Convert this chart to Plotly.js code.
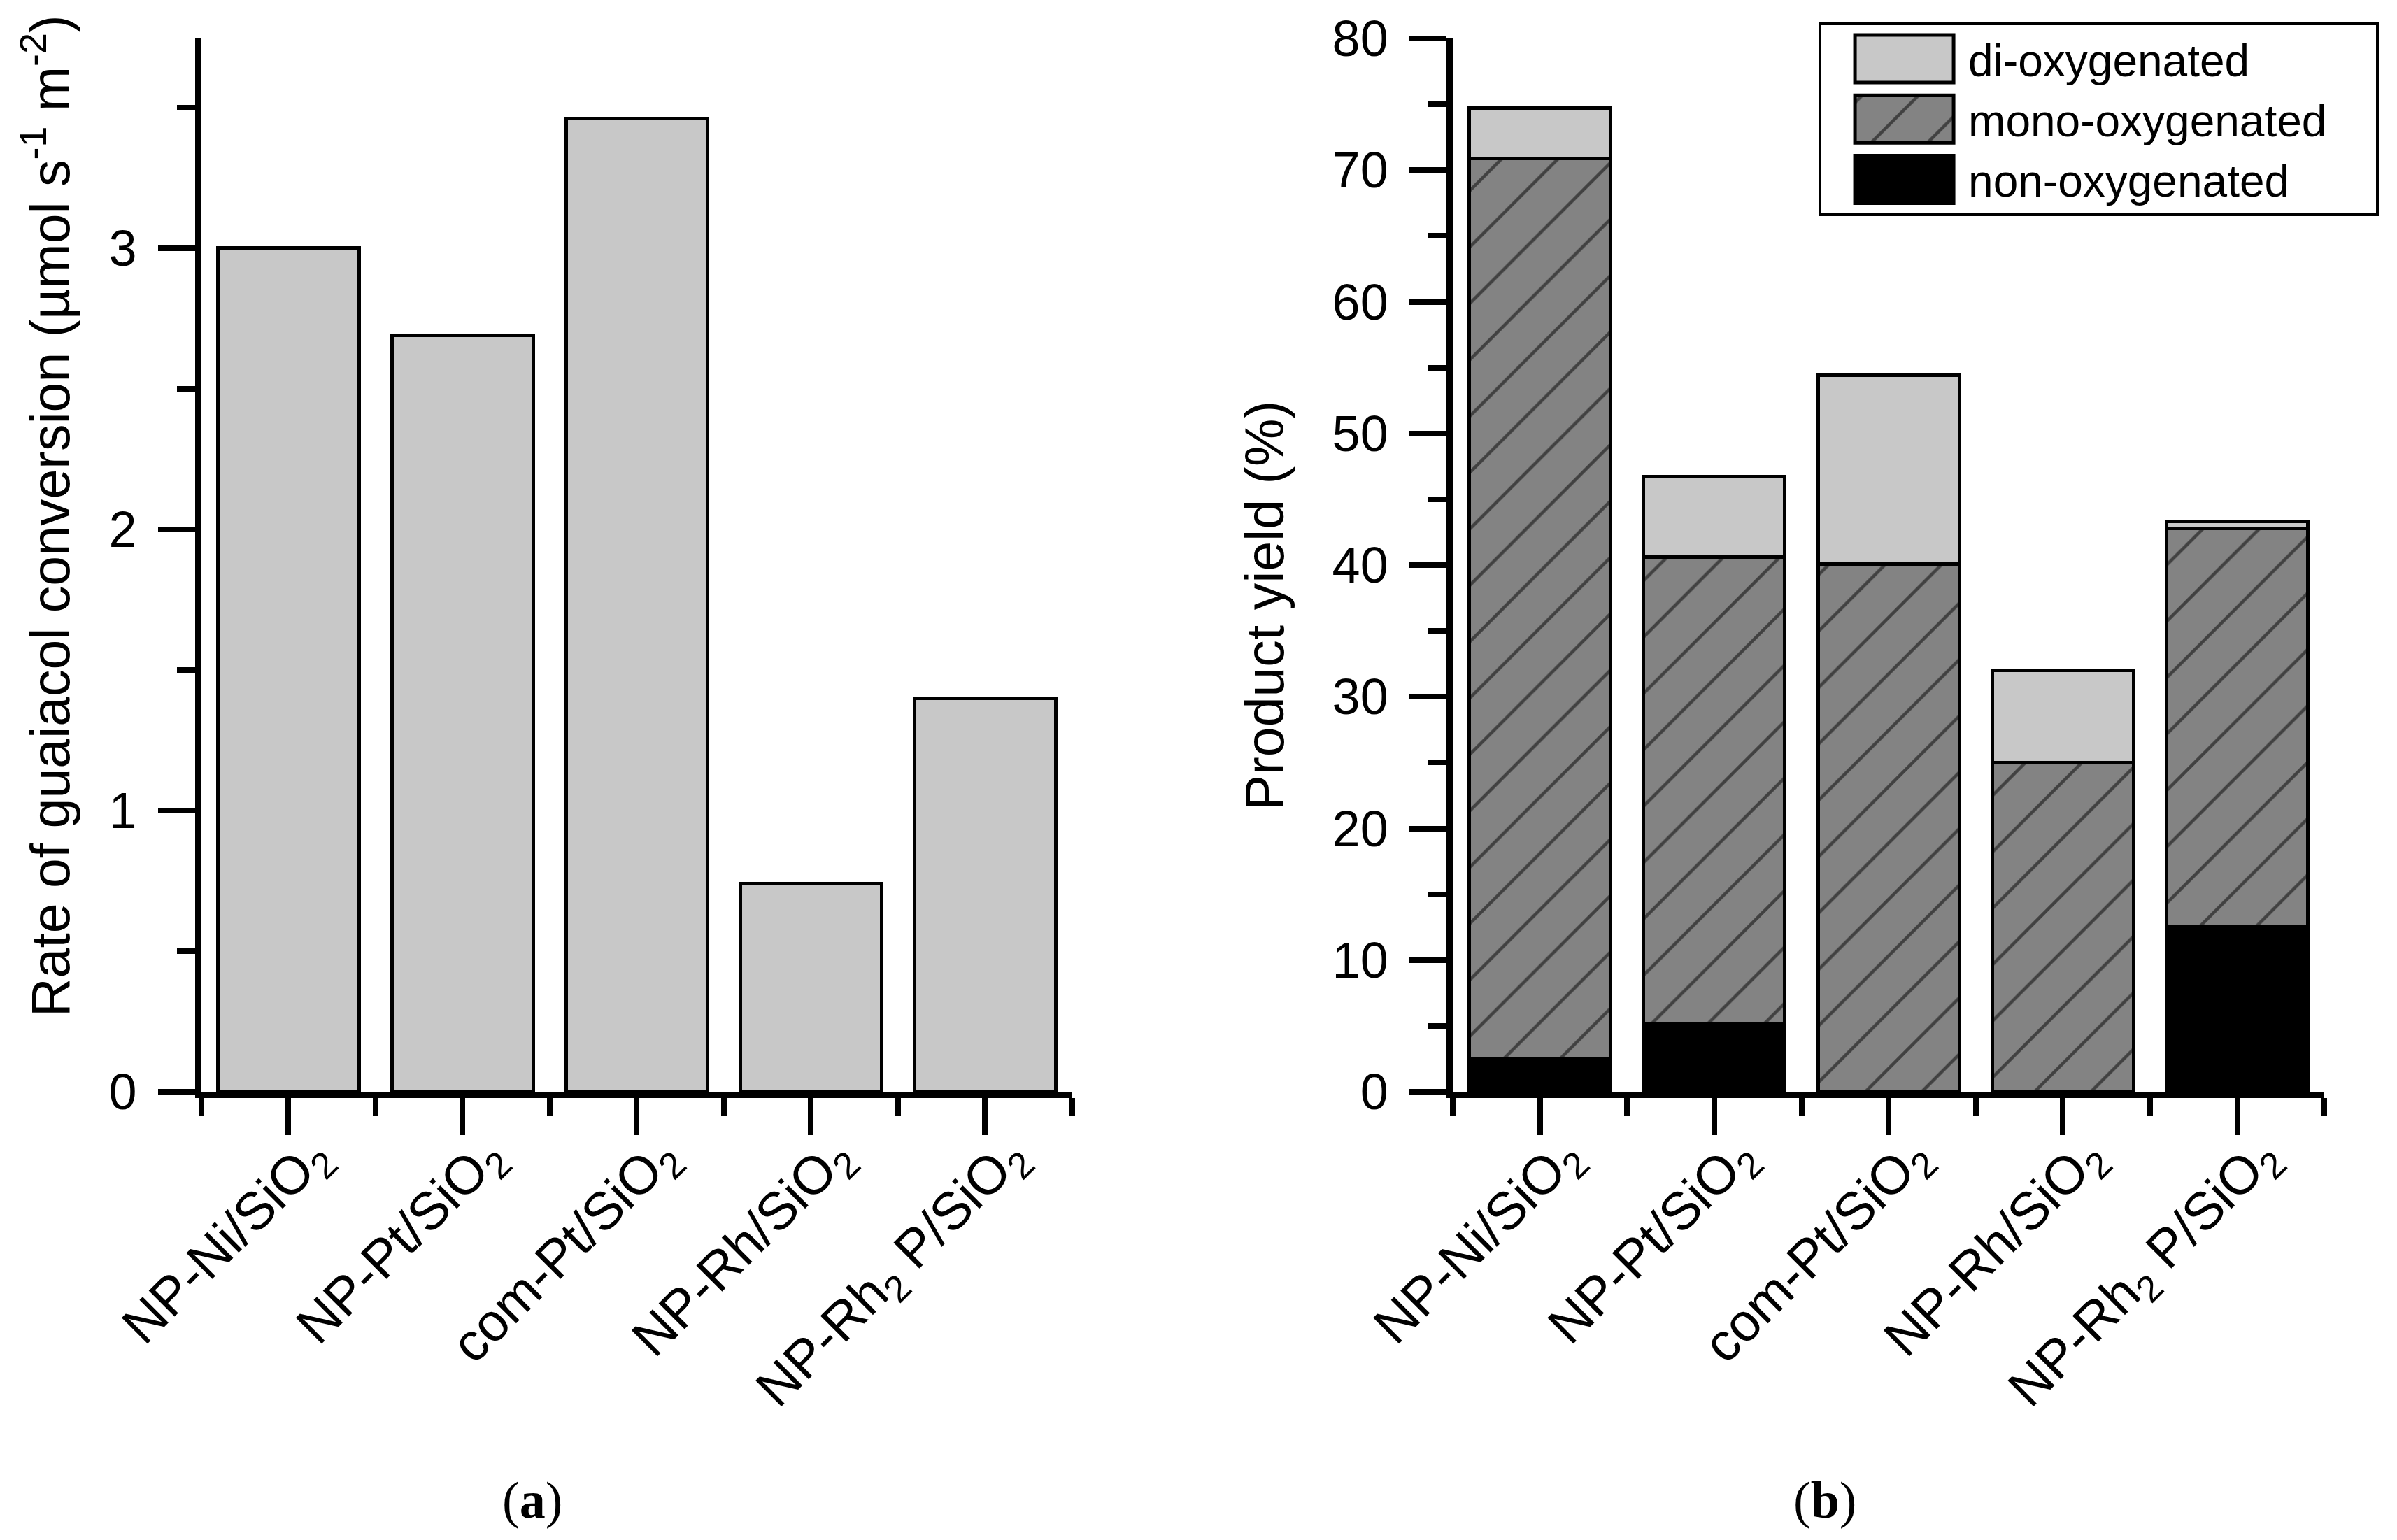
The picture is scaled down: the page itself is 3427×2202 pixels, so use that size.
<!DOCTYPE html>
<html>
<head>
<meta charset="utf-8">
<script src="https://cdn.plot.ly/plotly-3.0.1.min.js"></script>
<style>body { margin: 0; background: #fff; }</style>
</head>
<body>
<div id="chart" style="width:3427px;height:2202px"></div>
<script>
var catalysts = ['NP-Ni/SiO<sub>2</sub>', 'NP-Pt/SiO<sub>2</sub>', 'com-Pt/SiO<sub>2</sub>', 'NP-Rh/SiO<sub>2</sub>', 'NP-Rh<sub>2</sub> P/SiO<sub>2</sub>']
var rate = [3.00, 2.69, 3.46, 0.74, 1.40]
var nonOxy = [2.5, 5.1, 0, 0, 12.5]
var monoOxy = [68.4, 35.5, 40.1, 25.0, 30.3]
var diOxy = [3.8, 6.1, 14.3, 7.0, 0.5]

var font = 'Liberation Sans, Arial, sans-serif'
var serif = 'Liberation Serif, Times New Roman, serif'
var pos = catalysts.map(function (c, i) { return i })
var bounds = pos.concat([pos.length]).map(function (i) { return i - 0.5 })
var edge = { color: '#000', width: 5 }

function xAxis(domain, anchor) {
  return {
    domain: domain,
    anchor: anchor,
    range: [-0.5, pos.length - 0.5],
    tickmode: 'array',
    tickvals: pos,
    ticktext: catalysts,
    tickangle: -45,
    ticks: 'outside',
    ticklen: 53,
    tickwidth: 8,
    tickcolor: '#000',
    ticklabelstandoff: -46,
    ticklabelshift: 36,
    tickfont: { family: font, size: 76, color: '#000' },
    minor: { tickmode: 'array', tickvals: bounds, ticks: 'outside', ticklen: 26, tickwidth: 8, tickcolor: '#000', showgrid: false },
    showline: true,
    linewidth: 9,
    linecolor: '#000',
    showgrid: false,
    zeroline: false,
    fixedrange: true
  }
}

function yAxis(range, dtick, anchor) {
  return {
    domain: [0.2911, 0.975],
    anchor: anchor,
    range: range,
    dtick: dtick,
    ticks: 'outside',
    ticklen: 53,
    tickwidth: 8,
    tickcolor: '#000',
    ticklabelstandoff: 16,
    tickfont: { family: font, size: 72, color: '#000' },
    minor: { dtick: dtick / 2, ticks: 'outside', ticklen: 26, tickwidth: 8, tickcolor: '#000', showgrid: false },
    showline: true,
    linewidth: 9,
    linecolor: '#000',
    showgrid: false,
    zeroline: false,
    fixedrange: true
  }
}

function label(text, x, y, size, family, angle) {
  return {
    text: text, xref: 'paper', yref: 'paper', x: x, y: y,
    xanchor: 'center', yanchor: 'middle', showarrow: false, textangle: angle,
    font: { family: family, size: size, color: '#000' }
  }
}

var data = [
  {
    type: 'bar', x: pos, y: rate, xaxis: 'x', yaxis: 'y',
    marker: { color: '#c8c8c8', line: edge },
    showlegend: false, hoverinfo: 'skip'
  },
  {
    type: 'bar', name: 'non-oxygenated', x: pos, y: nonOxy, xaxis: 'x2', yaxis: 'y2',
    marker: { color: '#000', line: edge }, hoverinfo: 'skip'
  },
  {
    type: 'bar', name: 'mono-oxygenated', x: pos, y: monoOxy, xaxis: 'x2', yaxis: 'y2',
    marker: {
      color: '#838383', line: edge,
      pattern: { shape: '/', fillmode: 'overlay', fgcolor: '#000', bgcolor: '#838383', size: 57, solidity: 0.08 }
    },
    hoverinfo: 'skip'
  },
  {
    type: 'bar', name: 'di-oxygenated', x: pos, y: diOxy, xaxis: 'x2', yaxis: 'y2',
    marker: { color: '#c8c8c8', line: edge }, hoverinfo: 'skip'
  }
]

var layout = {
  width: 3427,
  height: 2202,
  margin: { l: 0, r: 0, t: 0, b: 0 },
  paper_bgcolor: '#fff',
  plot_bgcolor: '#fff',
  barmode: 'stack',
  bargap: 0.19,
  font: { family: font, color: '#000' },
  xaxis: xAxis([0.0840, 0.4473], 'y'),
  yaxis: yAxis([0, 3.745], 1, 'x'),
  xaxis2: xAxis([0.6061, 0.9697], 'y2'),
  yaxis2: yAxis([0, 80], 10, 'x2'),
  showlegend: true,
  legend: {
    x: 0.7587, y: 0.9855, xanchor: 'left', yanchor: 'top',
    traceorder: 'reversed',
    bgcolor: '#fff', bordercolor: '#000', borderwidth: 4,
    itemwidth: 200,
    font: { family: font, size: 64, color: '#000' }
  },
  annotations: [
    label('Rate of guaiacol conversion (µmol s<sup>-1</sup> m<sup>-2</sup>)', 0.0193, 0.6649, 77, font, -90),
    label('Product yield (%)', 0.5276, 0.6067, 77, font, -90),
    label('(<b>a</b>)', 0.2221, 0.026, 74, serif, 0),
    label('(<b>b</b>)', 0.7613, 0.026, 74, serif, 0)
  ]
}

function bigSwatches(gd) {
  // Plotly draws fixed 12px legend squares; the figure uses wide boxes
  var hatch = null
  gd.querySelectorAll('.barlayer path').forEach(function (b) {
    if (!hatch && b.style.fill.indexOf('url') >= 0) hatch = b.style.fill
  })
  gd.querySelectorAll('.legend .legendpoints path').forEach(function (p) {
    p.setAttribute('d', 'M84,34H-57V-34H84Z')
    p.style.strokeWidth = '5px'
    if (hatch && p.style.fill.indexOf('url') >= 0) p.style.fill = hatch
  })
  // a little more room on the right of the legend box
  gd.querySelectorAll('.legend rect.bg').forEach(function (bg) {
    bg.setAttribute('width', 797)
  })
  document.querySelectorAll('clipPath[id^="legend"] rect').forEach(function (r) {
    r.setAttribute('width', 801)
  })
}

Plotly.newPlot('chart', data, layout, { displayModeBar: false, staticPlot: true }).then(function (gd) {
  bigSwatches(gd)
  gd.on('plotly_afterplot', function () { bigSwatches(gd) })
  setTimeout(function () { bigSwatches(gd) }, 100)
  setTimeout(function () { bigSwatches(gd) }, 600)
})
</script>
</body>
</html>
